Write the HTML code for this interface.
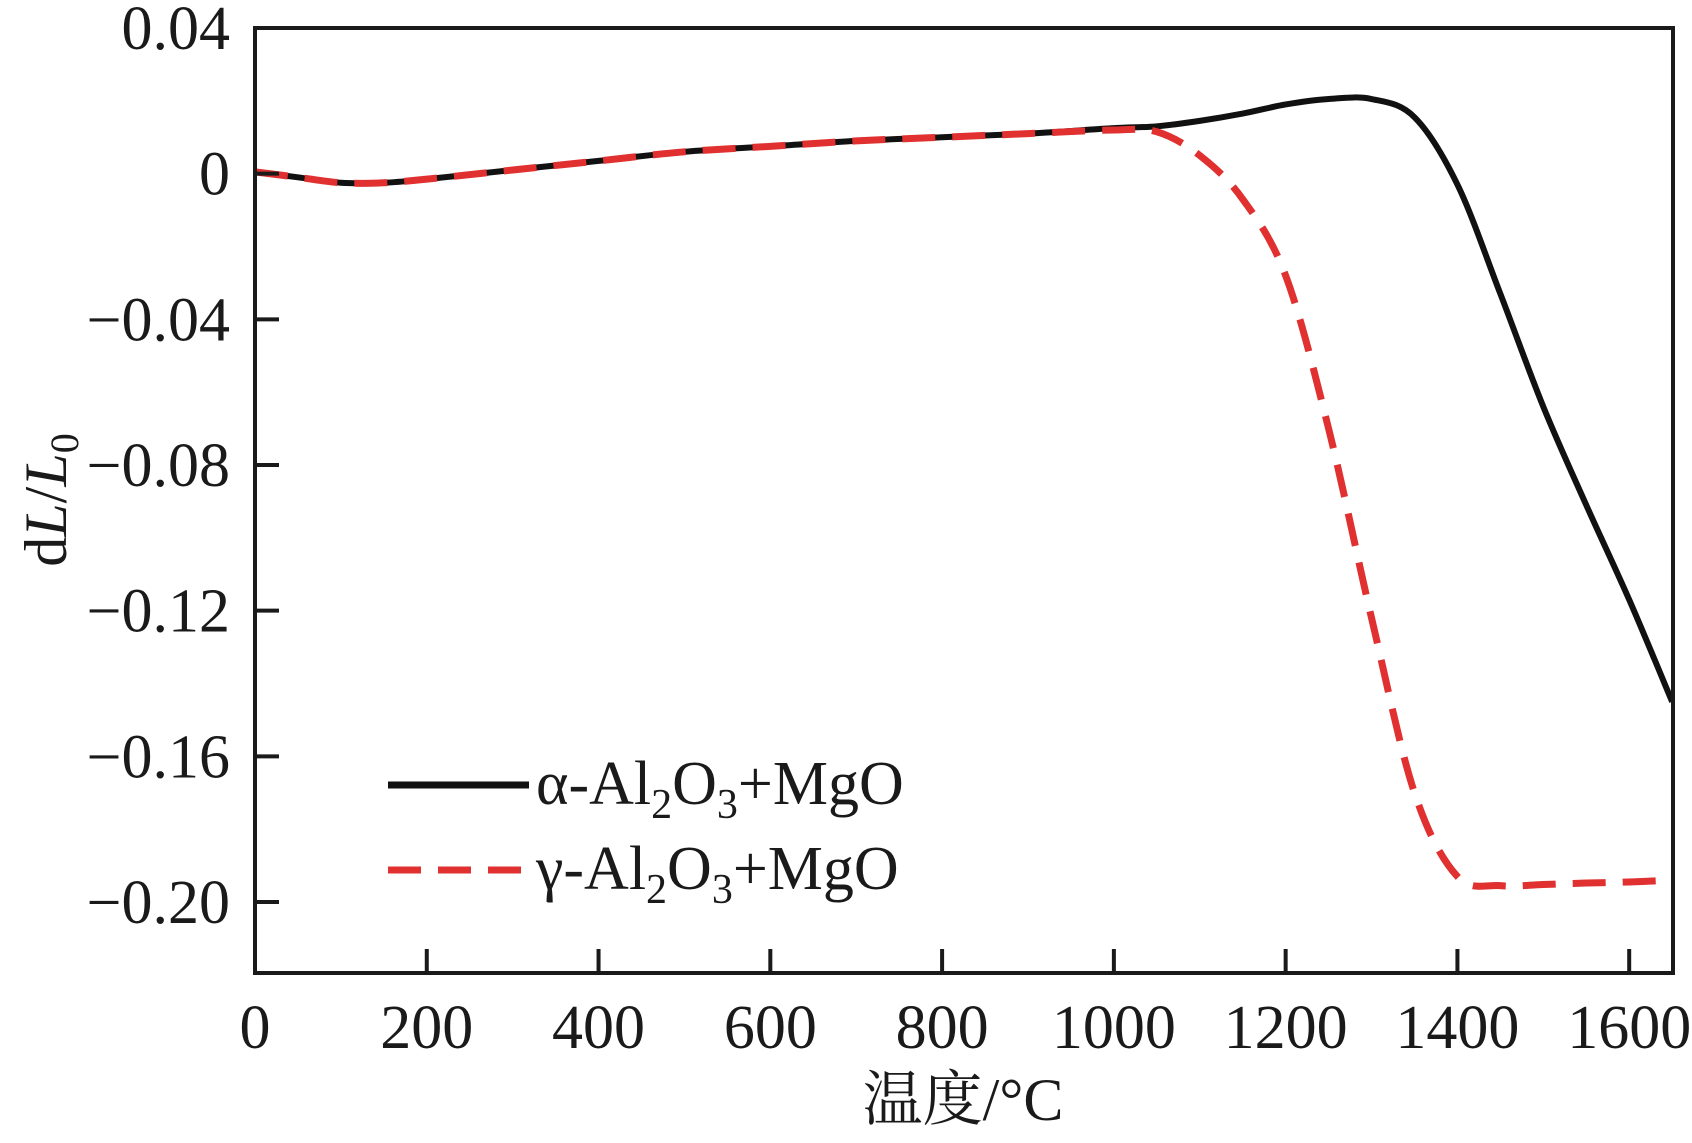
<!DOCTYPE html>
<html><head><meta charset="utf-8"><style>
body{margin:0;background:#fff}
svg text{font-family:"Liberation Serif","Noto Serif CJK SC",serif;fill:#1a1a1a}
</style></head><body>
<svg id="chart" width="1692" height="1138" xmlns="http://www.w3.org/2000/svg">
<g id="marks"></g>
<rect x="255" y="28" width="1418" height="945" fill="none" stroke="#1a1a1a" stroke-width="4"/>
<g id="axes"></g>
<text transform="translate(66,500) rotate(-90)" text-anchor="middle" font-size="60">d<tspan font-style="italic">L</tspan>/<tspan font-style="italic">L</tspan><tspan font-size="40" dy="12">0</tspan></text>
<text x="963" y="1120" text-anchor="middle" font-size="60">温度/°C</text>
<g>
<line x1="388" y1="785" x2="529" y2="785" stroke="#111" stroke-width="7"/>
<text x="536" y="804" font-size="62">α-Al<tspan font-size="42" dy="14">2</tspan><tspan dy="-14">O</tspan><tspan font-size="42" dy="14">3</tspan><tspan dy="-14">+MgO</tspan></text>
<line x1="388" y1="870" x2="529" y2="870" stroke="#e03030" stroke-width="7" stroke-dasharray="33,17"/>
<text x="536" y="889" font-size="62">γ-Al<tspan font-size="42" dy="14">2</tspan><tspan dy="-14">O</tspan><tspan font-size="42" dy="14">3</tspan><tspan dy="-14">+MgO</tspan></text>
</g>
</svg>
<script>
const temps = [0,50,100,150,200,300,400,500,600,700,800,900,1000,1050,1100,1150,1200,1250,1300,1350,1400,1450,1500,1550,1600,1650];
const alphaVals = [0.0005,-0.001,-0.0025,-0.0025,-0.0015,0.001,0.0035,0.006,0.0075,0.009,0.01,0.011,0.0125,0.013,0.0145,0.0165,0.019,0.0205,0.0205,0.0155,-0.003,-0.033,-0.064,-0.091,-0.117,-0.145];
const gammaVals = [0.0005,-0.001,-0.0025,-0.0025,-0.0015,0.001,0.0035,0.006,0.0075,0.009,0.01,0.011,0.012,0.0115,0.005,-0.007,-0.028,-0.07,-0.122,-0.17,-0.193,-0.1955,-0.1952,-0.1948,-0.1945,-0.194];
const xTicks = [0,200,400,600,800,1000,1200,1400,1600];
const yTicks = [0.04,0,-0.04,-0.08,-0.12,-0.16,-0.20];
const yTickLabels = ["0.04","0","\u22120.04","\u22120.08","\u22120.12","\u22120.16","\u22120.20"];
const X0=255,X1=1673,Y0=28,Y1=973,XMIN=0,XMAX=1651,YMIN=-0.2195,YMAX=0.04;
const sx=v=>X0+(v-XMIN)/(XMAX-XMIN)*(X1-X0);
const sy=v=>Y1-(v-YMIN)/(YMAX-YMIN)*(Y1-Y0);
const NS="http://www.w3.org/2000/svg";
function pathFor(xs,ys){
  const p=xs.map((x,i)=>[sx(x),sy(ys[i])]);
  let d=`M${p[0][0]},${p[0][1]}`;
  for(let i=0;i<p.length-1;i++){
    const a=p[Math.max(0,i-1)],b=p[i],c=p[i+1],e=p[Math.min(p.length-1,i+2)];
    const c1=[b[0]+(c[0]-a[0])/6,b[1]+(c[1]-a[1])/6],c2=[c[0]-(e[0]-b[0])/6,c[1]-(e[1]-b[1])/6];
    d+=` C${c1[0]},${c1[1]} ${c2[0]},${c2[1]} ${c[0]},${c[1]}`;
  }
  return d;
}
const marks=document.getElementById('marks');
const pa=document.createElementNS(NS,'path');
pa.setAttribute('d',pathFor(temps,alphaVals));
pa.setAttribute('fill','none');pa.setAttribute('stroke','#111');pa.setAttribute('stroke-width','6');


marks.appendChild(pa);
const pg=document.createElementNS(NS,'path');
pg.setAttribute('d',pathFor(temps,gammaVals));
pg.setAttribute('fill','none');pg.setAttribute('stroke','#e03030');pg.setAttribute('stroke-width','7');pg.setAttribute('stroke-dasharray','33,17');


marks.appendChild(pg);
const axes=document.getElementById('axes');
xTicks.forEach(t=>{
  const l=document.createElementNS(NS,'line');
  l.setAttribute('x1',sx(t));l.setAttribute('x2',sx(t));l.setAttribute('y1',Y1);l.setAttribute('y2',Y1-24);
  l.setAttribute('stroke','#1a1a1a');l.setAttribute('stroke-width','4');
  
  
  axes.appendChild(l);
  const tx=document.createElementNS(NS,'text');
  tx.setAttribute('x',sx(t));tx.setAttribute('y',1048);tx.setAttribute('text-anchor','middle');tx.setAttribute('font-size','62');
  tx.textContent=t;
  
  
  axes.appendChild(tx);
});
yTicks.forEach((t,i)=>{
  const l=document.createElementNS(NS,'line');
  l.setAttribute('x1',X0);l.setAttribute('x2',X0+24);l.setAttribute('y1',sy(t));l.setAttribute('y2',sy(t));
  l.setAttribute('stroke','#1a1a1a');l.setAttribute('stroke-width','4');
  
  
  axes.appendChild(l);
  const tx=document.createElementNS(NS,'text');
  tx.setAttribute('x',230);tx.setAttribute('y',sy(t)+21);tx.setAttribute('text-anchor','end');tx.setAttribute('font-size','62');
  tx.textContent=yTickLabels[i];
  
  
  axes.appendChild(tx);
});
</script>
</body></html>
